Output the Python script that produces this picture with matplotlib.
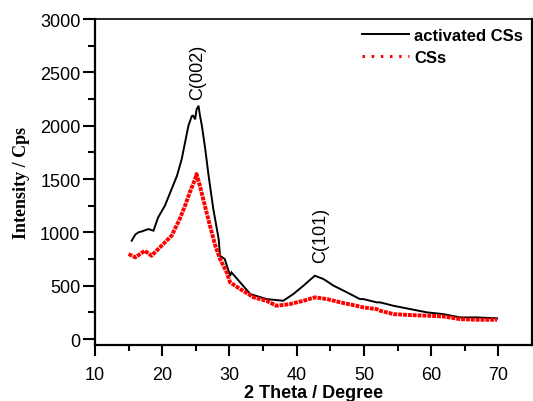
import matplotlib
matplotlib.use("Agg")
import matplotlib.pyplot as plt
from matplotlib.lines import Line2D

plt.rcParams['font.family'] = ['Liberation Sans', 'DejaVu Sans']

# activated CSs (black)
act_x = [15.46, 16.0, 16.45, 17.0, 17.94, 18.7, 19.4, 20.4, 21.4, 22.2, 22.9, 23.4,
         23.9, 24.4, 24.6, 24.9, 25.1, 25.4, 25.6, 25.9, 26.4, 26.9, 27.6, 28.4,
         28.6, 29.3, 30.1, 30.3, 31.6, 33.1, 35.5, 38.0, 39.5, 41.0, 42.7, 44.0,
         45.5, 47.5, 49.4, 49.9, 51.9, 52.4, 54.4, 56.9, 59.4, 61.8, 64.3, 66.8, 69.8]
act_y = [922, 980, 1000, 1010, 1031, 1016, 1141, 1250, 1406, 1531, 1687, 1844,
         2000, 2090, 2094, 2060, 2150, 2187, 2100, 2000, 1781, 1531, 1219, 937,
         781, 750, 594, 625, 531, 422, 375, 359, 422, 500, 594, 562,
         500, 437, 375, 375, 344, 344, 312, 281, 250, 234, 203, 203, 194]

# CSs (red)
css_x = [15.0, 16.0, 17.4, 18.4, 19.9, 21.4, 22.6, 23.4, 24.1, 24.9, 25.1, 25.6,
         26.1, 26.6, 27.1, 27.9, 28.6, 29.6, 30.1, 31.6, 33.6, 35.5, 37.0, 39.0,
         41.0, 42.7, 44.5, 46.5, 48.9, 49.9, 51.9, 52.4, 54.4, 56.9, 59.4, 61.8,
         64.3, 66.8, 69.8]
css_y = [797, 766, 828, 781, 875, 969, 1125, 1250, 1375, 1500, 1547, 1437,
         1312, 1187, 1062, 875, 750, 625, 531, 469, 391, 359, 312, 328,
         359, 391, 375, 344, 312, 297, 281, 266, 234, 225, 219, 212,
         187, 181, 181]

series_labels = ['activated CSs', 'CSs']
peak_labels = ['C(002)', 'C(101)']
peak_pos = [(25.3, 2250), (43.5, 722)]

x_ticks = [10, 20, 30, 40, 50, 60, 70]
y_ticks = [0, 500, 1000, 1500, 2000, 2500, 3000]

fig = plt.figure(figsize=(5.33, 4.02), dpi=100)
ax = fig.add_axes([0.1782, 0.140, 0.8199, 0.8102])

ax.plot(act_x, act_y, color='black', lw=1.4, solid_joinstyle='miter')
ax.plot(css_x, css_y, color='red', lw=2.8, linestyle=(0, (1, 0.25)))

handles = [Line2D([], [], color='black', lw=1.4),
           Line2D([], [], color='red', lw=2.2, linestyle=(0, (0.8, 2.2)))]
leg = ax.legend(handles, series_labels, loc='upper right', frameon=False,
                prop={'weight': 'bold', 'size': 12}, handlelength=2.8,
                handletextpad=0.3, labelspacing=0.4,
                bbox_to_anchor=(1.0, 1.0), borderaxespad=0.15)

for lab, (px, py) in zip(peak_labels, peak_pos):
    ax.text(px, py, lab, rotation=90, ha='center', va='bottom', fontsize=13)

ax.set_xlim(10, 75)
ax.set_ylim(-53, 3000)
ax.set_xticks(x_ticks)
ax.set_yticks(y_ticks)
ax.set_xticks([15, 25, 35, 45, 55, 65], minor=True)
ax.set_yticks([250, 750, 1250, 1750, 2250, 2750], minor=True)

ax.tick_params(axis='both', which='both', direction='out', width=1.5, labelsize=13)
ax.tick_params(axis='y', which='major', length=9, pad=1.5)
ax.tick_params(axis='y', which='minor', length=5)
ax.tick_params(axis='x', which='major', length=8, pad=7)
ax.tick_params(axis='x', which='minor', length=4.5)

for s in ['left', 'bottom', 'right']:
    ax.spines[s].set_linewidth(1.6)
ax.spines['top'].set_linewidth(1.2)

ax.set_xlabel('2 Theta / Degree', fontsize=13, fontweight='bold', labelpad=0.8)
ax.set_ylabel('Intensity / Cps', fontsize=13, fontweight='bold',
              family=['Liberation Serif'], labelpad=7)

fig.savefig('out.png', dpi=100)
